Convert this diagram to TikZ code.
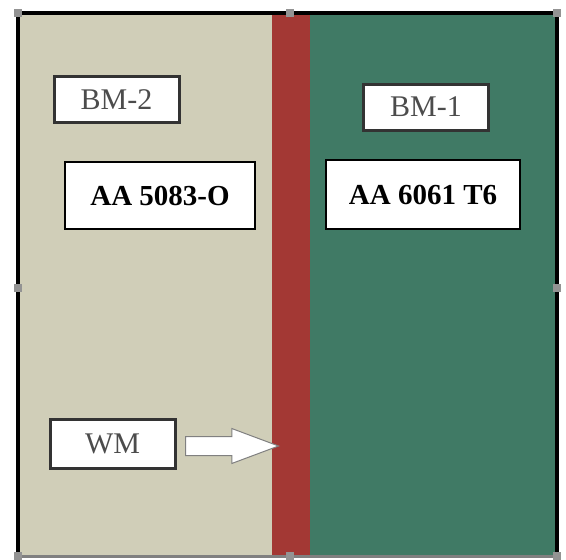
\documentclass[tikz,border=0pt]{standalone}
\usepackage{fontspec}
\setmainfont{Liberation Serif}
\usetikzlibrary{arrows.meta,positioning,shapes.arrows}

\definecolor{basetwo}{HTML}{D0CEB8}
\definecolor{weldzone}{HTML}{A33834}
\definecolor{baseone}{HTML}{407A65}

\begin{document}
\begin{tikzpicture}[
  x=1pt,y=-1pt,
  tag/.style={draw=black!80,line width=3pt,fill=white,text=black!70,
              font=\fontsize{30}{30}\selectfont,minimum width=125pt,
              minimum height=46pt,inner sep=0pt},
  alloy/.style={draw,line width=1.2pt,fill=white,
                font=\fontsize{29}{29}\selectfont\bfseries,
                minimum width=190pt,minimum height=67pt,inner sep=0pt},
  handle/.style={fill=gray!85,minimum size=8pt,inner sep=0pt}
]
\useasboundingbox (0,0) rectangle (566,560);
\fill[white] (0,0) rectangle (566,560);

% plates
\fill[basetwo] (20,15) rectangle (272,555);
\fill[weldzone] (272,15) rectangle (310,555);
\fill[baseone] (310,15) rectangle (557,555);
\draw[line width=3.5pt] (18,555) |- (557,13) -- (557,555);
\draw[gray,line width=3pt] (18,556) -- (557,556);

% labels
\node[tag] (bm2) at (116.5,99.5) {BM-2};
\node[alloy] (al5083) at (160,195.5) {AA 5083-O};
\node[tag] (bm1) at (426,107) {BM-1};
\node[alloy,minimum width=194pt,minimum height=69pt] (al6061) at (423,194.5) {AA 6061 T6};
\node[tag,minimum height=49pt] (wm) at (112.5,444) {WM};

% arrow to the weld
\node[single arrow,draw=gray,fill=white,line width=1pt,minimum height=93pt,
      minimum width=34pt,single arrow head extend=8pt,single arrow tip angle=41,
      inner sep=9pt,anchor=tip] (wmarrow) at (280,446) {};

% selection handles
\foreach \hx/\hy [count=\i] in {18/13,290/13,557/13,18/288,557/288,18/556,290/556,557/556}
  \node[handle] (h\i) at (\hx,\hy) {};
\end{tikzpicture}
\end{document}
